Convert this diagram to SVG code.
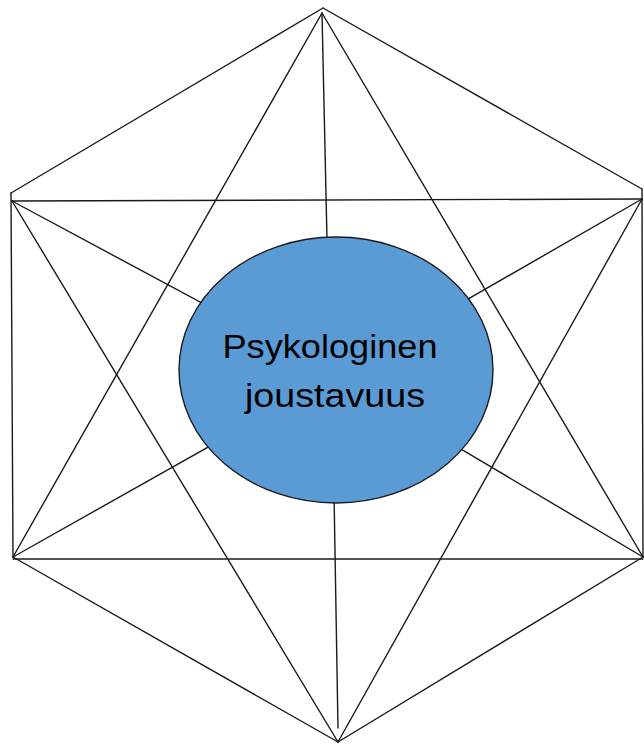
<svg xmlns="http://www.w3.org/2000/svg" width="644" height="745" viewBox="0 0 644 745">
<style>
.ln{stroke:#1a1a1a;stroke-width:1.4;fill:none;stroke-linecap:round}
.lbl{font-family:"Liberation Sans",Arial,sans-serif;font-size:33px;fill:#000;text-anchor:middle}
</style>
<rect width="644" height="745" fill="#fff"/>
<g id="connectors">
<line class="ln" x1="323" y1="8" x2="11" y2="193"/>
<line class="ln" x1="323" y1="8" x2="642" y2="189"/>
<line class="ln" x1="11" y1="193" x2="13" y2="557"/>
<line class="ln" x1="642" y1="189" x2="643" y2="557"/>
<line class="ln" x1="13" y1="557" x2="338" y2="742"/>
<line class="ln" x1="643" y1="557" x2="338" y2="742"/>
<line class="ln" x1="12" y1="201" x2="642" y2="199"/>
<line class="ln" x1="13" y1="559" x2="643" y2="559"/>
<line class="ln" x1="322" y1="13" x2="13" y2="557"/>
<line class="ln" x1="322" y1="13" x2="643" y2="557"/>
<line class="ln" x1="338" y1="742" x2="12" y2="201"/>
<line class="ln" x1="338" y1="742" x2="642" y2="199"/>
<line class="ln" x1="322" y1="13" x2="330" y2="375"/>
<line class="ln" x1="338" y1="728" x2="332" y2="375"/>
<line class="ln" x1="12" y1="201" x2="336" y2="375"/>
<line class="ln" x1="642" y1="199" x2="336" y2="375"/>
<line class="ln" x1="13" y1="557" x2="336" y2="375"/>
<line class="ln" x1="643" y1="557" x2="336" y2="375"/>
</g>
<g id="center">
<ellipse cx="336" cy="370" rx="157" ry="133" fill="#5B9BD5" stroke="#1a1a1a" stroke-width="1.4"/>
<text class="lbl" x="330" y="358" textLength="215" lengthAdjust="spacingAndGlyphs">Psykologinen</text>
<text class="lbl" x="335" y="407" textLength="180" lengthAdjust="spacingAndGlyphs">joustavuus</text>
</g>
</svg>
